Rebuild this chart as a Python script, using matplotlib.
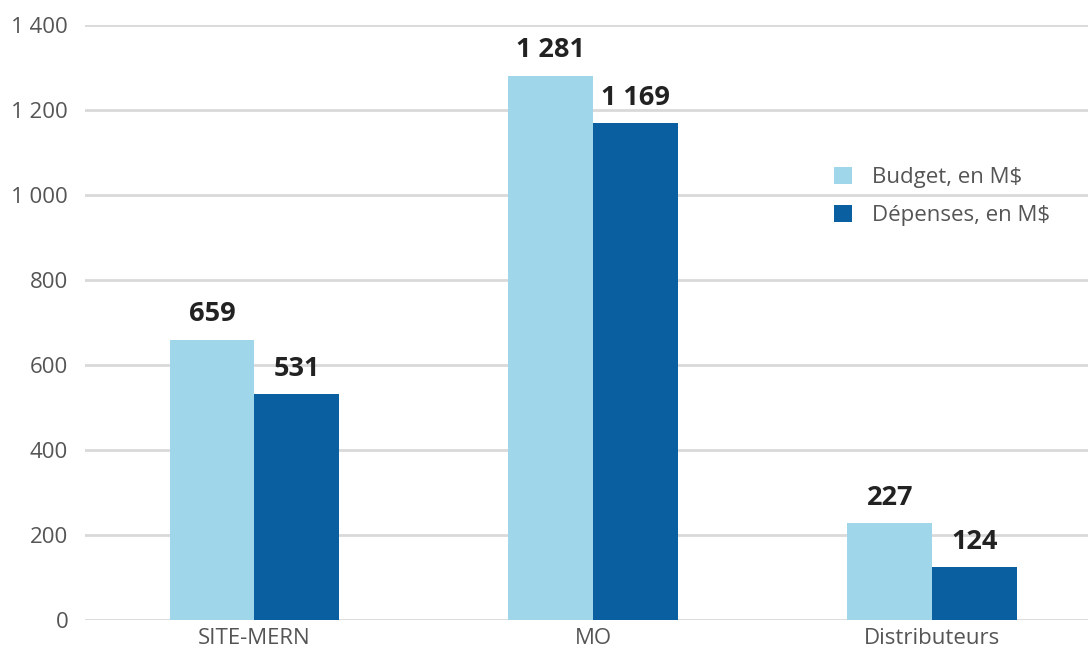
import matplotlib
matplotlib.use("Agg")
import matplotlib.pyplot as plt
import numpy as np

# Data
categories = ["SITE-MERN", "MO", "Distributeurs"]
budget = [659, 1281, 227]
depenses = [531, 1169, 124]
series_names = ["Budget, en M$", "Dépenses, en M$"]
yticks = [0, 200, 400, 600, 800, 1000, 1200, 1400]
ytick_labels = ["0", "200", "400", "600", "800", "1 000", "1 200", "1 400"]

plt.rcParams['font.family'] = ['Open Sans', 'DejaVu Sans']

colors = ['#a0d6e9', '#0a5fa1']

fig = plt.figure(figsize=(10.88, 6.56), dpi=100)
ax = fig.add_axes([0.078, 0.055, 0.922, 0.907])

x = np.arange(len(categories))
w = 0.25

b1 = ax.bar(x - w / 2, budget, w, color=colors[0], label=series_names[0], zorder=2)
b2 = ax.bar(x + w / 2, depenses, w, color=colors[1], label=series_names[1], zorder=2)

def fmt(v):
    return f"{v:,}".replace(",", " ")

for bars in (b1, b2):
    ax.bar_label(bars, labels=[fmt(v) for v in bars.datavalues], padding=9,
                 fontsize=19.5, fontweight='bold', color='#222222')

ax.set_xlim(-0.5, 2.46)
ax.set_ylim(0, 1400)
ax.set_yticks(yticks)
ax.set_yticklabels(ytick_labels)
ax.set_xticks(x)
ax.set_xticklabels(categories)
ax.tick_params(axis='both', length=0, labelsize=16, labelcolor='#555555')
ax.tick_params(axis='y', pad=12)
ax.tick_params(axis='x', pad=6)

ax.yaxis.grid(True, color='#d9d9d9', linewidth=2, zorder=0)
ax.set_axisbelow(True)
for s in ax.spines.values():
    s.set_visible(False)

ax.legend(loc='upper left', bbox_to_anchor=(0.727, 0.795), frameon=False,
          fontsize=16, labelcolor='#555555', handlelength=0.8, handleheight=0.8,
          labelspacing=0.75, handletextpad=0.9)

fig.savefig("out.png", dpi=100)
